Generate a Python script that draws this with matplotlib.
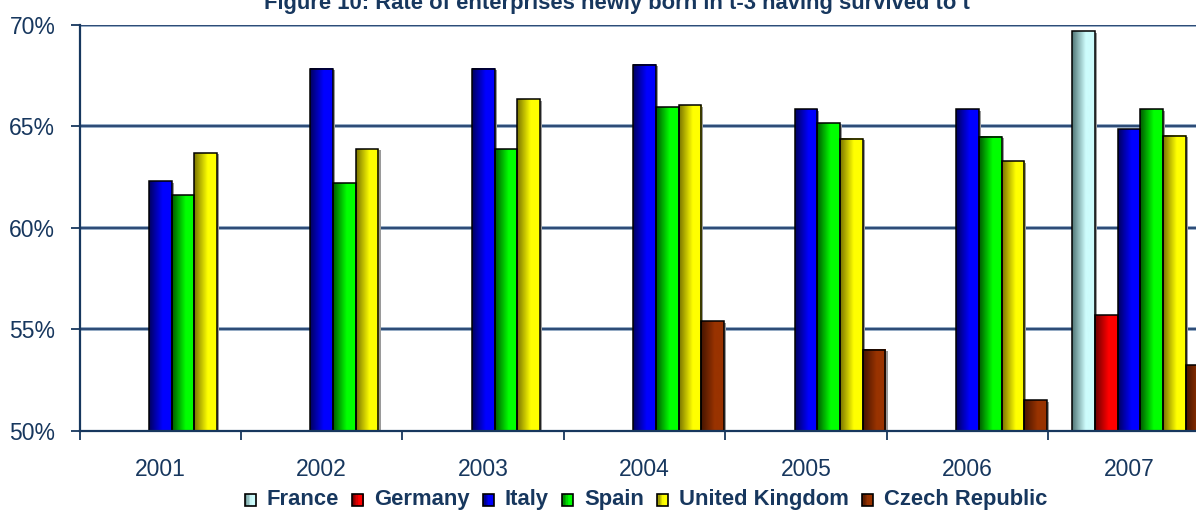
import numpy as np
import matplotlib.pyplot as plt
from matplotlib.colors import LinearSegmentedColormap
from matplotlib.patches import Rectangle
from matplotlib.legend_handler import HandlerBase

plt.rcParams['font.family'] = ['Liberation Sans Narrow', 'Liberation Sans', 'DejaVu Sans']

nan = np.nan
years = ['2001', '2002', '2003', '2004', '2005', '2006', '2007']
countries = ['France', 'Germany', 'Italy', 'Spain', 'United Kingdom', 'Czech Republic']
france = [nan, nan, nan, nan, nan, nan, 69.7]
germany = [nan, nan, nan, nan, nan, nan, 55.7]
italy = [62.3, 67.85, 67.85, 68.05, 65.85, 65.85, 64.85]
spain = [61.6, 62.2, 63.9, 65.95, 65.15, 64.5, 65.85]
uk = [63.7, 63.9, 66.35, 66.05, 64.4, 63.3, 64.55]
czech = [nan, nan, nan, 55.4, 54.0, 51.5, 53.25]
series = [france, germany, italy, spain, uk, czech]

# dark edge -> bright face, for the cylinder-like shading
shades = [('#4f7575', '#cdfcfc'),
          ('#6a0000', '#ff0000'),
          ('#000060', '#0000ff'),
          ('#005a00', '#00ff00'),
          ('#7a7400', '#ffff00'),
          ('#451400', '#993300')]
cmaps = [LinearSegmentedColormap.from_list('c%d' % i, [(0, a), (0.6, b), (1, b)])
         for i, (a, b) in enumerate(shades)]

navy = '#17375e'
grad = np.linspace(0, 1, 64).reshape(1, -1)

fig = plt.figure(figsize=(11.96, 5.13), dpi=100)
ax = fig.add_axes([79.6 / 1196, 82.3 / 513, 1130 / 1196, 405.7 / 513])
ax.set_xlim(-0.5, 6.5)
ax.set_ylim(50, 70)

for y in [55, 60, 65, 70]:
    ax.axhline(y, color='#7d98b8', lw=2.6, zorder=1)
    ax.axhline(y, color='#1f3d6b', lw=1.2, zorder=1)

w = 0.1406
x = np.arange(len(years))
for j, vals in enumerate(series):
    pos = x + (j - 2.5) * w + w / 2
    bars = ax.bar(pos, vals, w, facecolor='none', edgecolor='black', lw=1.1, zorder=4)
    for b, v in zip(bars, vals):
        if np.isnan(v):
            continue
        x0 = b.get_x()
        ax.add_patch(Rectangle((x0 + 0.013, 50), w, v - 50 - 0.08, color='#9a9a9a',
                               zorder=2, lw=0))
        ax.imshow(grad, cmap=cmaps[j], aspect='auto', extent=(x0, x0 + w, 0, v),
                  zorder=3, interpolation='bilinear')
ax.set_xlim(-0.5, 6.5)
ax.set_ylim(50, 70)

for s in ['top', 'right']:
    ax.spines[s].set_visible(False)
for s in ['left', 'bottom']:
    ax.spines[s].set_color(navy)
    ax.spines[s].set_linewidth(1.6)
    ax.spines[s].set_zorder(5)

ax.set_yticks([50, 55, 60, 65, 70])
ax.set_yticklabels(['50%', '55%', '60%', '65%', '70%'])
ax.tick_params(axis='y', length=6.5, width=1.3, color=navy, pad=11,
               labelsize=16.5, labelcolor=navy)

ax.set_xticks(np.arange(-0.5, 7, 1.0))
ax.set_xticklabels([])
ax.set_xticks(x, minor=True)
ax.set_xticklabels(years, minor=True)
ax.tick_params(axis='x', which='major', length=6.5, width=1.3, color=navy)
ax.tick_params(axis='x', which='minor', length=0, pad=20, labelsize=16.5, labelcolor=navy)

fig.text(0.516, 1 - 9 / 513, 'Figure 10: Rate of enterprises newly born in t-3 having survived to t',
         ha='center', va='baseline', fontsize=15.8, fontweight='bold', color=navy)


class GradHandler(HandlerBase):
    def create_artists(self, legend, orig, xd, yd, width, height, fontsize, trans):
        cm = orig.cmap_ref
        n = 8
        arts = []
        for k in range(n):
            arts.append(Rectangle((xd + width * k / n, yd), width / n + 0.3, height,
                                  color=cm((k + 0.5) / n), lw=0, transform=trans))
        arts.append(Rectangle((xd, yd), width, height, facecolor='none',
                              edgecolor='black', lw=1.2, transform=trans))
        return arts


handles = []
for j in range(len(countries)):
    h = Rectangle((0, 0), 1, 1)
    h.cmap_ref = cmaps[j]
    handles.append(h)

leg = fig.legend(handles, countries, loc='center', bbox_to_anchor=(646 / 1196, 0.027),
                 ncol=6, frameon=False, handler_map={Rectangle: GradHandler()},
                 handlelength=0.5, handleheight=0.5, handletextpad=0.5,
                 columnspacing=0.6, borderpad=0,
                 prop={'size': 15.8, 'weight': 'bold'})
for t in leg.get_texts():
    t.set_color(navy)

fig.savefig('out.png', dpi=100)
